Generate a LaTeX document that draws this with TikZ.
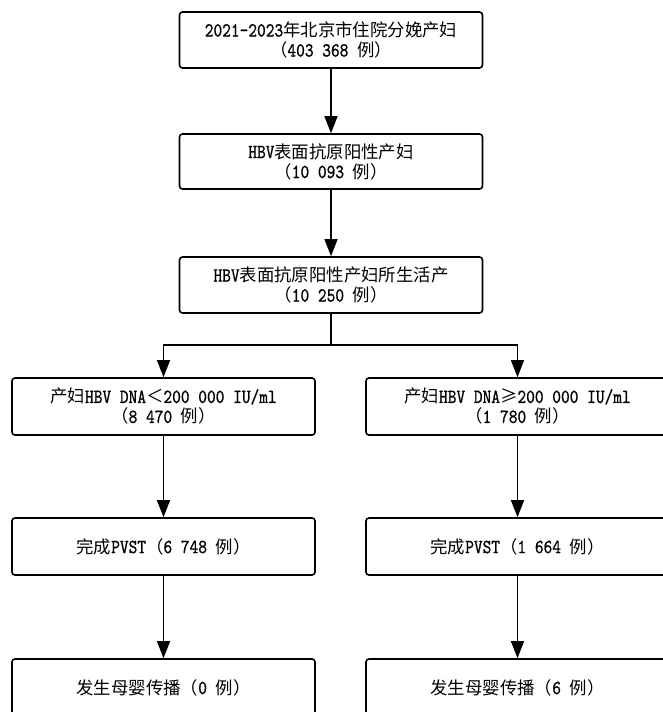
\documentclass[tikz,border=0pt]{standalone}
\usepackage{fontspec}
\setmainfont{lmmono10-regular.otf}[FakeStretch=0.83,FakeBold=0.8]
\newfontfamily\cjkf{Noto Sans CJK SC}
\newcommand\cj{\cjkf\fontsize{17.4}{20}\selectfont}
\newcommand\la{\rmfamily\fontsize{20}{20}\selectfont}
\usetikzlibrary{arrows.meta}
\tikzset{
  box/.style={draw, line width=1.6pt, rounded corners=3pt, minimum width=303pt,
    minimum height=56pt, align=center, inner sep=0pt, font=\la},
  arr/.style={line width=1.3pt, -{Triangle[length=17pt,width=13pt]}},
  ln/.style={line width=1.3pt}
}
\begin{document}
\begin{tikzpicture}[x=1pt,y=-1pt]
\useasboundingbox (0,0) rectangle (663,712);
\clip (0,0) rectangle (663,712);
\node[box] (b1) at (331,40) {2021-2023\cj 年北京市住院分娩产妇\\\cj （\la 403 368 \cj 例）};
\node[box, minimum height=55pt] (b2) at (331,161.5) {HBV\cj 表面抗原阳性产妇\\\cj （\la 10 093 \cj 例）};
\node[box] (b3) at (331,285) {HBV\cj 表面抗原阳性产妇所生活产\\\cj （\la 10 250 \cj 例）};
\node[box, minimum height=57pt] (l1) at (163.5,406.5) {\cj 产妇\la HBV DNA\cj ＜\la 200 000 IU/ml\\\cj （\la 8 470 \cj 例）};
\node[box, minimum height=57pt] (r1) at (517.5,406.5) {\cj 产妇\la HBV DNA\cj ≥\la 200 000 IU/ml\\\cj （\la 1 780 \cj 例）};
\node[box, minimum height=57pt] (l2) at (163.5,546.5) {\cj 完成\la PVST\cj （\la 6 748 \cj 例）};
\node[box, minimum height=57pt] (r2) at (517.5,546.5) {\cj 完成\la PVST\cj （\la 1 664 \cj 例）};
\node[box, minimum height=57pt] (l3) at (163.5,687.5) {\cj 发生母婴传播（\la 0 \cj 例）};
\node[box, minimum height=57pt] (r3) at (517.5,687.5) {\cj 发生母婴传播（\la 6 \cj 例）};
\coordinate (sp) at (331,345);
\draw[arr] (b1) -- (b2);
\draw[arr] (b2) -- (b3);
\draw[ln] (b3.south) -- (sp);
\draw[arr] (sp) -| (l1.north);
\draw[arr] (sp) -| (r1.north);
\draw[arr] (l1) -- (l2);
\draw[arr] (r1) -- (r2);
\draw[arr] (l2) -- (l3);
\draw[arr] (r2) -- (r3);
\end{tikzpicture}
\end{document}
